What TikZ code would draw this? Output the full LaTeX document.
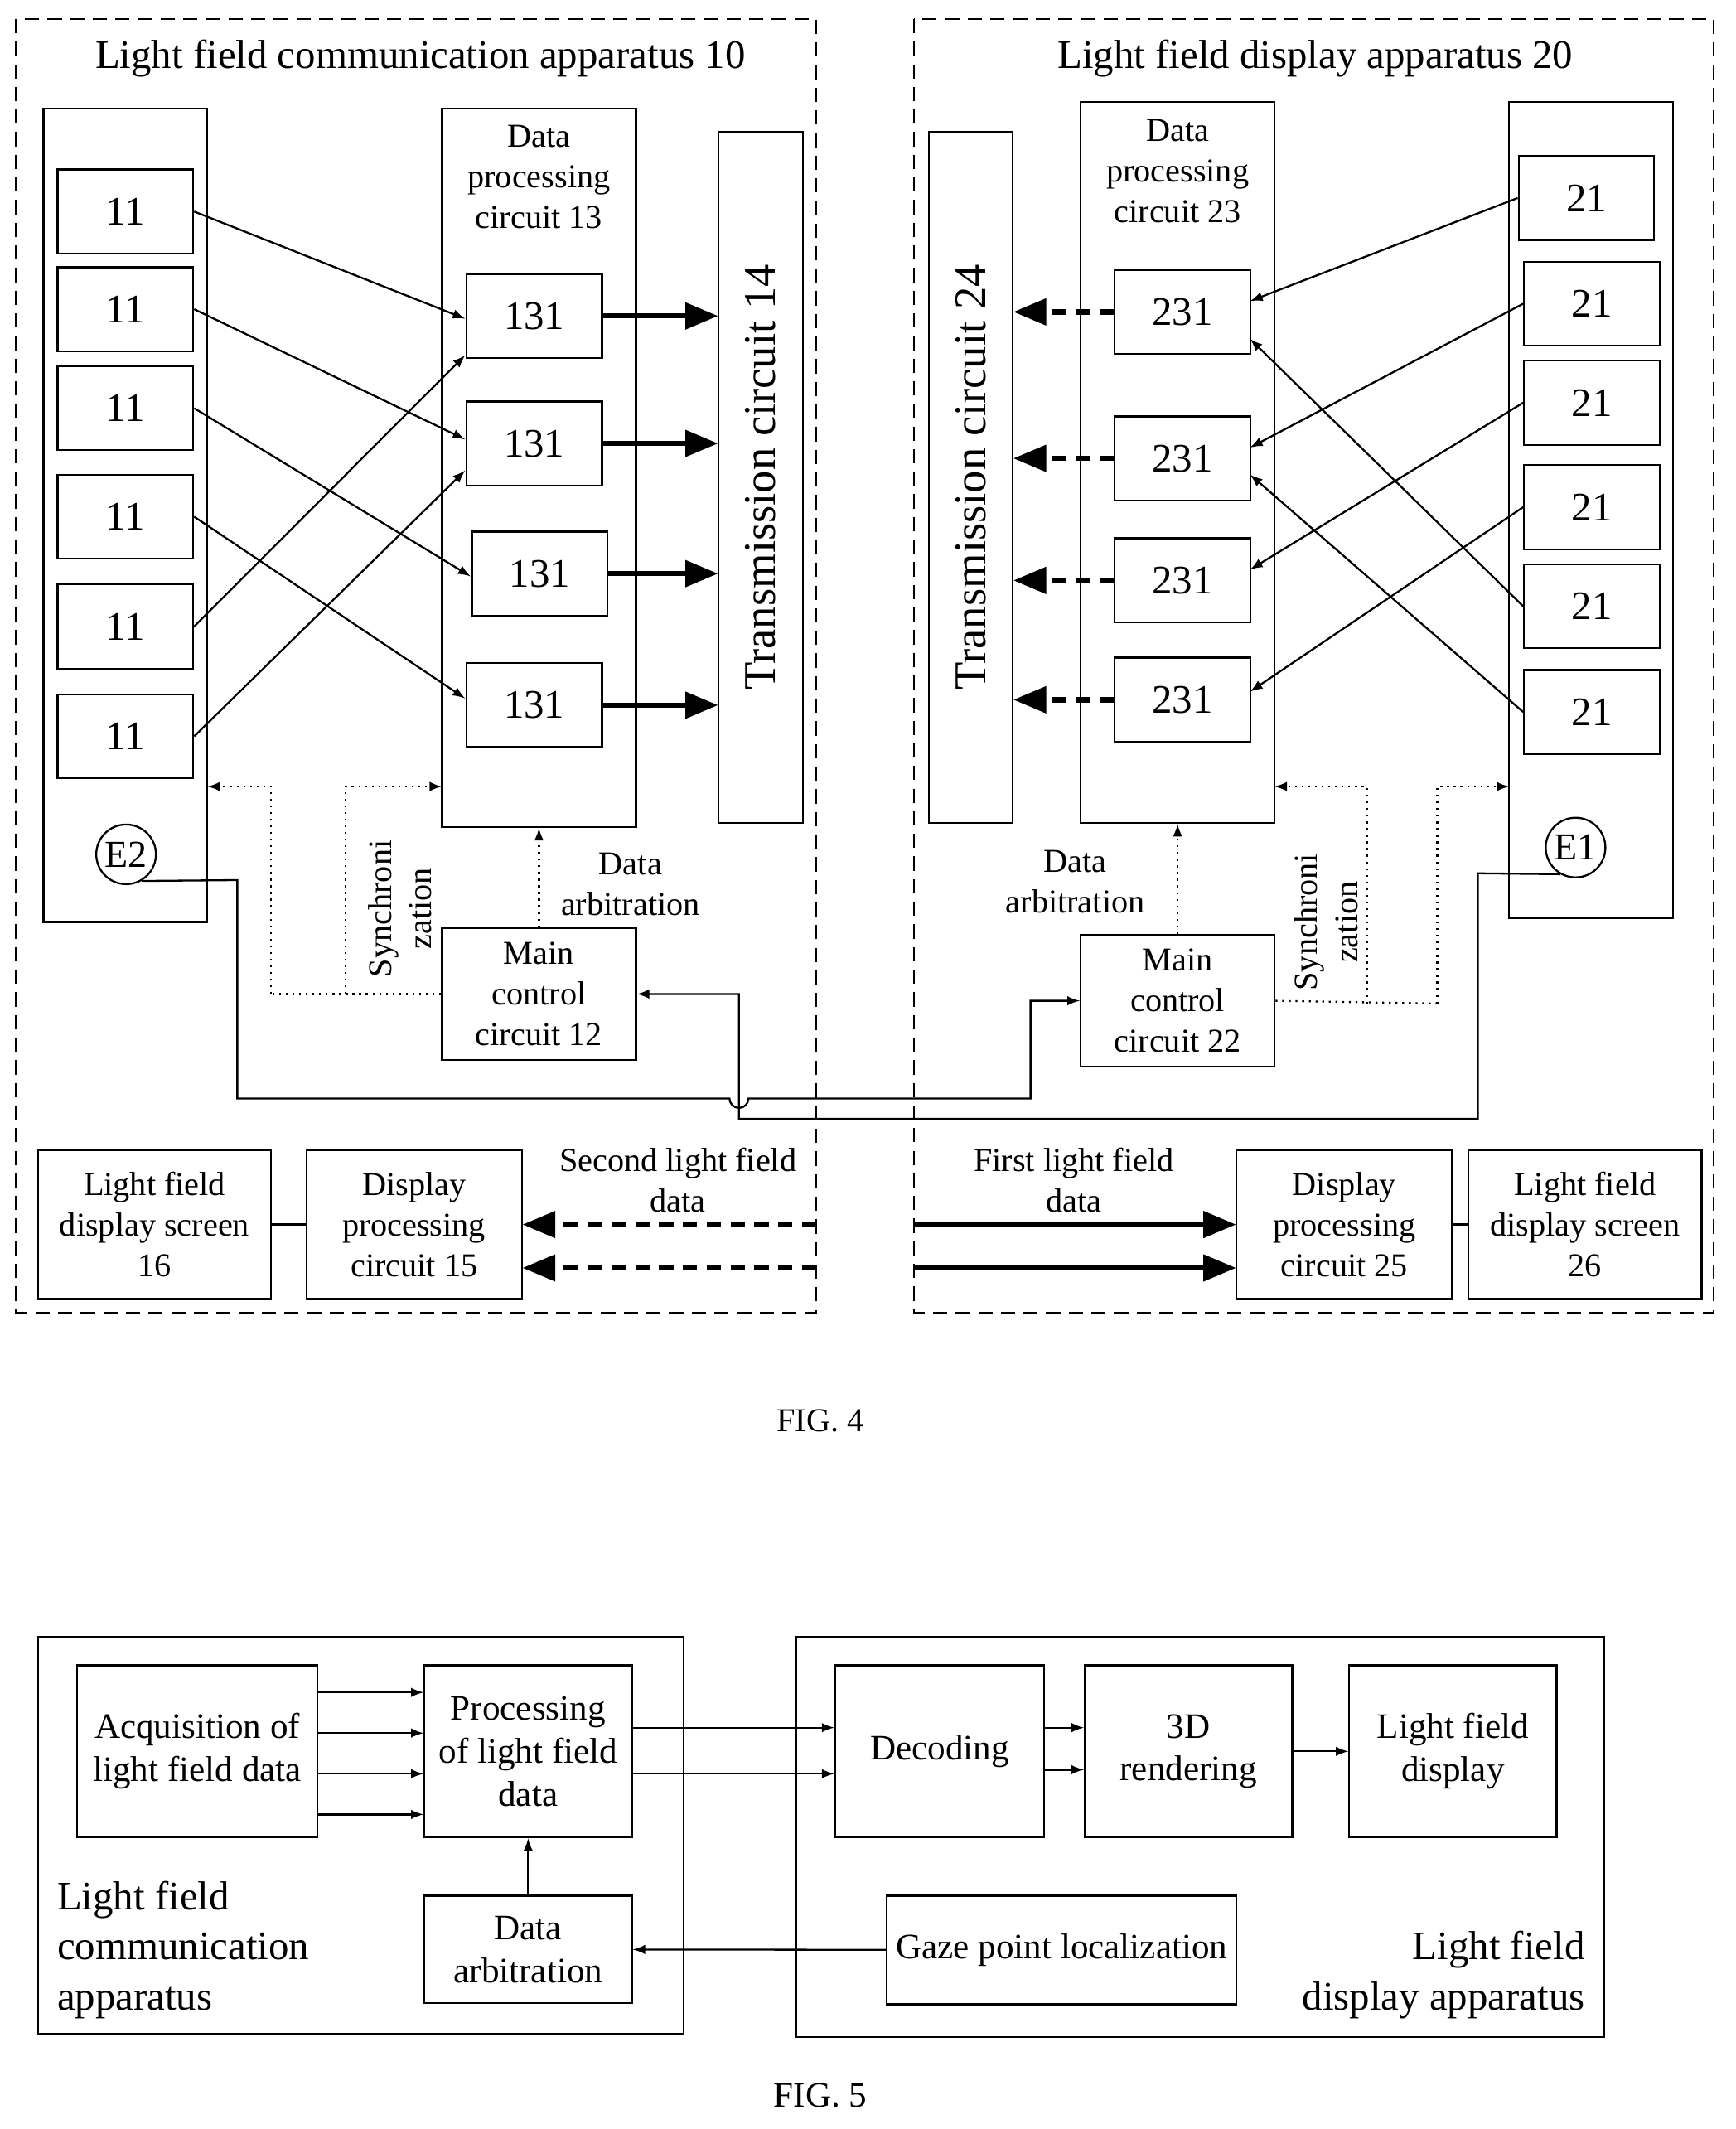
\documentclass[tikz,border=0pt]{standalone}
\usepackage{fontspec}
\setmainfont{Liberation Serif}
\usetikzlibrary{arrows,positioning}
\begin{document}
\begin{tikzpicture}[x=0.02cm,y=-0.02cm,
    txt/.style={align=center,inner sep=0pt,font=\fontsize{14}{17}\selectfont},
    box/.style={txt,draw,thick},
    num/.style={draw,thick,minimum width=2cm,minimum height=1.24cm,font=\fontsize{17}{20}\selectfont},
    frame/.style={draw,thick,dash pattern=on 6pt off 3.5pt},
    sig/.style={thick,-latex},
    fat/.style={line width=2.2pt,-triangle 45},
    fatdash/.style={fat,dash pattern=on 6pt off 4pt},
    dot/.style={thick,dotted,-latex},
    big/.style={font=\fontsize{17}{21}\selectfont}]
  \useasboundingbox (0,0) rectangle (1280,1570);
  % FIG. 4, left part
  \draw[frame] (12,14) rectangle (602,968);
  \draw[frame] (674,14) rectangle (1264,968);
  \node[big] (t10) at (310,43) {Light field communication apparatus 10};
  \node[big] (t20) at (970,43) {Light field display apparatus 20};
  \node[box,minimum width=2.42cm,minimum height=12cm] (col1) at (92.5,380) {};
  \foreach \n/\y in {a/156,b/228,c/301,d/381,e/462,f/543}
    \node[num] (s\n) at (92.5,\y) {11};
  \node[draw,thick,circle,minimum size=0.88cm,inner sep=0pt,font=\fontsize{16}{19}\selectfont] (e2) at (93,630) {E2};
  \node[box,minimum width=2.86cm,minimum height=10.6cm] (dp13) at (397.5,345) {};
  \node[txt,anchor=north] (l13) at (397.5,92) {Data\\processing\\circuit 13};
  \node[num] (pa) at (394,233) {131};
  \node[num] (pb) at (394,327) {131};
  \node[num] (pc) at (398,423) {131};
  \node[num] (pd) at (394,520) {131};
  \node[box,minimum width=1.24cm,minimum height=10.2cm] (tc14) at (561,352)
    {\rotatebox{90}{\fontsize{19}{22}\selectfont Transmission circuit 14}};
  \foreach \p in {pa,pb,pc,pd}
    \draw[fat] (\p.east) -- (\p.east -| tc14.west);
  \draw[sig] (sa.east) -- (343,235);
  \draw[sig] (sb.east) -- (343,324);
  \draw[sig] (sc.east) -- (347,425);
  \draw[sig] (sd.east) -- (343,515);
  \draw[sig] (se.east) -- (343,262);
  \draw[sig] (sf.east) -- (343,347);
  \node[box,minimum width=2.86cm,minimum height=1.94cm] (mc12) at (397.5,733) {Main\\control\\circuit 12};
  \draw[dot] (mc12.north) -- (dp13.south);
  \node[txt] (da12) at (465,652) {Data\\arbitration};
  \coordinate (s1) at (200,733);
  \coordinate (s2) at (255,733);
  \draw[thick,dotted] (mc12.west) -- (s1);
  \draw[dot] (s1) |- (153,580);
  \draw[dot] (s2) |- (326,580);
  \node[txt,rotate=90] (sy1) at (295,670) {Synchroni\\zation};
  % FIG. 4, right part
  \node[box,minimum width=2.42cm,minimum height=12.04cm] (col2) at (1173.5,376) {};
  \foreach \n/\y/\x in {a/146/1170,b/224/1174,c/297/1174,d/374/1174,e/447/1174,f/525/1174}
    \node[num] (r\n) at (\x,\y) {21};
  \node[draw,thick,circle,minimum size=0.88cm,inner sep=0pt,font=\fontsize{16}{19}\selectfont] (e1) at (1162,625) {E1};
  \node[box,minimum width=2.86cm,minimum height=10.64cm] (dp23) at (868.5,341) {};
  \node[txt,anchor=north] (l23) at (868.5,88) {Data\\processing\\circuit 23};
  \node[num] (qa) at (872,230) {231};
  \node[num] (qb) at (872,338) {231};
  \node[num] (qc) at (872,428) {231};
  \node[num] (qd) at (872,516) {231};
  \node[box,minimum width=1.24cm,minimum height=10.2cm] (tc24) at (716,352)
    {\rotatebox{90}{\fontsize{19}{22}\selectfont Transmission circuit 24}};
  \foreach \q in {qa,qb,qc,qd}
    \draw[fatdash] (\q.west) -- (\q.west -| tc24.east);
  \draw[sig] (ra.west) -- (922,222);
  \draw[sig] (rb.west) -- (922,330);
  \draw[sig] (rc.west) -- (922,420);
  \draw[sig] (rd.west) -- (922,510);
  \draw[sig] (re.west) -- (922,250);
  \draw[sig] (rf.west) -- (922,350);
  \node[box,minimum width=2.86cm,minimum height=1.94cm] (mc22) at (868.5,738) {Main\\control\\circuit 22};
  \draw[dot] (mc22.north) -- (dp23.south);
  \node[txt] (da22) at (793,650) {Data\\arbitration};
  \coordinate (s3) at (1060,740);
  \coordinate (s4) at (1008,740);
  \draw[thick,dotted] (mc22.east) -- (s3);
  \draw[dot] (s3) |- (1113,580);
  \draw[dot] (s4) |- (940,580);
  \node[txt,rotate=90] (sy2) at (978,680) {Synchroni\\zation};
  % cross links between the eye trackers and main control
  \draw[sig] (e2.-60) -- (175,649) -- (175,810) -- (538,810)
    arc[start angle=180,end angle=0,radius=7] -- (760,810) |- (mc22.west);
  \draw[sig] (e1.240) -- (1090,644) -- (1090,825) -- (545,825) |- (mc12.east);
  % bottom rows
  \node[box,minimum width=3.44cm,minimum height=2.2cm] (sc16) at (114,903) {Light field\\display screen\\16};
  \node[box,minimum width=3.18cm,minimum height=2.2cm] (dp15) at (305.5,903) {Display\\processing\\circuit 15};
  \draw[thick] (sc16) -- (dp15);
  \draw[fatdash] (602,903) -- (dp15.east |- 0,903);
  \draw[fatdash] (602,935) -- (dp15.east |- 0,935);
  \node[txt] (sl) at (500,870) {Second light field\\data};
  \node[box,minimum width=3.18cm,minimum height=2.2cm] (dp25) at (991.5,903) {Display\\processing\\circuit 25};
  \node[box,minimum width=3.44cm,minimum height=2.2cm] (sc26) at (1169,903) {Light field\\display screen\\26};
  \draw[thick] (dp25) -- (sc26);
  \draw[fat] (674,903) -- (dp25.west |- 0,903);
  \draw[fat] (674,935) -- (dp25.west |- 0,935);
  \node[txt] (fl) at (792,870) {First light field\\data};
  \node[txt] (f4) at (605,1048) {FIG. 4};
  % FIG. 5
  \draw[thick] (28,1207) rectangle (504,1500);
  \draw[thick] (587,1207) rectangle (1183,1502);
  \node[box,minimum width=3.54cm,minimum height=2.54cm,font=\fontsize{15}{18}\selectfont] (acq) at (145.5,1291.5) {Acquisition of\\light field data};
  \node[box,minimum width=3.06cm,minimum height=2.54cm,font=\fontsize{15}{18}\selectfont] (proc) at (389.5,1291.5) {Processing\\of light field\\data};
  \foreach \y in {1248,1278,1308,1338}
    \draw[sig] (acq.east |- 0,\y) -- (proc.west |- 0,\y);
  \node[box,minimum width=3.06cm,minimum height=1.58cm,font=\fontsize{15}{18}\selectfont] (arb) at (389.5,1437.5) {Data\\arbitration};
  \draw[sig] (arb) -- (proc);
  \node[big,align=left,anchor=north west] (lca) at (36,1381) {Light field\\communication\\apparatus};
  \node[box,minimum width=3.08cm,minimum height=2.54cm,font=\fontsize{15}{18}\selectfont] (dec) at (693,1291.5) {Decoding};
  \node[box,minimum width=3.06cm,minimum height=2.54cm,font=\fontsize{15}{18}\selectfont] (ren) at (876.5,1291.5) {3D\\rendering};
  \node[box,minimum width=3.06cm,minimum height=2.54cm,font=\fontsize{15}{18}\selectfont] (lfd) at (1071.5,1291.5) {Light field\\display};
  \draw[sig] (proc.east |- 0,1274) -- (dec.west |- 0,1274);
  \draw[sig] (proc.east |- 0,1308) -- (dec.west |- 0,1308);
  \draw[sig] (dec.east |- 0,1274) -- (ren.west |- 0,1274);
  \draw[sig] (dec.east |- 0,1305) -- (ren.west |- 0,1305);
  \draw[sig] (ren) -- (lfd);
  \node[box,minimum width=5.16cm,minimum height=1.6cm,font=\fontsize{15}{18}\selectfont] (gaze) at (783,1438) {Gaze point localization};
  \draw[sig] (gaze) -- (arb);
  \node[big,align=right,anchor=north east] (lda) at (1175,1418) {Light field\\display apparatus};
  \node[txt,font=\fontsize{15}{18}\selectfont] (f5) at (605,1545) {FIG. 5};
\end{tikzpicture}
\end{document}
